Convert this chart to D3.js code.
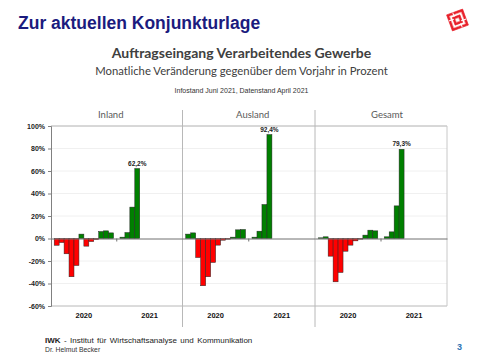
<!DOCTYPE html>
<html>
<head>
<meta charset="utf-8">
<script src="https://cdn.jsdelivr.net/npm/d3@7"></script>
<style>
  html, body { margin: 0; padding: 0; background: #fff; }
  svg { display: block; }
</style>
</head>
<body>
<svg id="chart" width="480" height="360"></svg>
<script>
// ---- data ----
const panels = ["Inland", "Ausland", "Gesamt"];
const years = ["2020", "2021"];
const months = ["Jan","Feb","Mär","Apr","Mai","Jun","Jul","Aug","Sep","Okt","Nov","Dez"];
const inland  = [-6.0, -3.6, -13.6, -34.0, -24.0, 3.9, -6.8, -2.7, -0.9, 6.2, 6.8, 5.0,   1.2, 5.3, 27.9, 62.2];
const ausland = [ 3.9,  5.0, -16.9, -42.0, -34.0, -21.3, -5.9, -1.5, -0.6, 1.2, 7.7, 8.0,   1.2, 6.5, 30.2, 92.4];
const gesamt  = [ 0.6,  1.5, -15.7, -38.5, -30.2, -11.3, -5.9, -2.1, -0.6, 3.0, 7.4, 6.8,   1.5, 5.9, 29.0, 79.3];
const seriesValues = [inland, ausland, gesamt];
const peakLabels = ["62,2%", "92,4%", "79,3%"];
const yTicks = [100, 80, 60, 40, 20, 0, -20, -40, -60];

(function () {
// ---- layout ----
const svg = d3.select("#chart");
const pLeft = 51, pRight = 447, pTop = 126, pBottom = 306;
const panelEdges = [51, 182.5, 315, 447];
const titleOffsets = [-6, 4, 6];

const y = d3.scaleLinear().domain([-60, 100]).range([pBottom, pTop]);

// header texts
svg.append("text").attr("x", 18).attr("y", 29)
  .attr("font-family", "Liberation Sans, Arial, sans-serif").attr("font-weight", "bold")
  .attr("font-size", 17.5).attr("fill", "#1b1b7e").text("Zur aktuellen Konjunkturlage");

svg.append("text").attr("x", 241.5).attr("y", 58.3).attr("text-anchor", "middle")
  .attr("font-family", "Lato, 'Open Sans', sans-serif").attr("font-weight", "bold")
  .attr("font-size", 14).attr("fill", "#404040").text("Auftragseingang Verarbeitendes Gewerbe");

svg.append("text").attr("x", 241.5).attr("y", 74.7).attr("text-anchor", "middle")
  .attr("font-family", "Lato, 'Open Sans', sans-serif")
  .attr("font-size", 11.3).attr("fill", "#404040").text("Monatliche Veränderung gegenüber dem Vorjahr in Prozent");

svg.append("text").attr("x", 241.5).attr("y", 92.5).attr("text-anchor", "middle")
  .attr("font-family", "Liberation Sans Narrow, Liberation Sans, Arial, sans-serif")
  .attr("font-size", 7).attr("fill", "#333").text("Infostand Juni 2021, Datenstand April 2021");

// logo (decorative)
const logo = svg.append("g").attr("transform", "translate(457.5,20) rotate(-20)");
[8.5, 6.2, 4, 1.8].forEach((r, i) => {
  logo.append("rect").attr("x", -r).attr("y", -r).attr("width", 2 * r).attr("height", 2 * r)
    .attr("fill", i % 2 === 0 ? "#e8202a" : "#fff")
    .attr("stroke", i % 2 === 0 ? "#e8202a" : "#f4a0a0").attr("stroke-width", 0.6);
});
logo.append("path").attr("d", "M-8.5,-2 L-3,-2 M3,2 L8.5,2 M-2,-8.5 L-2,-4 M2,4 L2,8.5")
  .attr("stroke", "#fff").attr("stroke-width", 1);

// gridlines
const grid = svg.append("g");
grid.selectAll("line.g").data(yTicks.filter(t => t !== 0 && t !== 100 && t !== -60))
  .join("line").attr("x1", pLeft).attr("x2", pRight)
  .attr("y1", d => y(d)).attr("y2", d => y(d))
  .attr("stroke", "#ececec").attr("stroke-width", 0.8);
grid.append("line").attr("x1", pLeft).attr("x2", pRight).attr("y1", y(100)).attr("y2", y(100))
  .attr("stroke", "#b0b0b0").attr("stroke-width", 1);
grid.append("line").attr("x1", pLeft).attr("x2", pRight).attr("y1", y(-60)).attr("y2", y(-60))
  .attr("stroke", "#b8b8b8").attr("stroke-width", 1);
grid.append("line").attr("x1", pRight).attr("x2", pRight).attr("y1", y(100)).attr("y2", y(-60))
  .attr("stroke", "#c8c8c8").attr("stroke-width", 1);

// panel dividers
svg.selectAll("line.div").data([panelEdges[1], panelEdges[2]]).join("line")
  .attr("x1", d => d).attr("x2", d => d).attr("y1", 110).attr("y2", 327)
  .attr("stroke", "#b8b8b8").attr("stroke-width", 1);

// y axis
const yAxis = d3.axisLeft(y).tickValues(yTicks).tickSize(3).tickFormat(d => d + "%");
const yg = svg.append("g").attr("transform", `translate(${pLeft},0)`).call(yAxis);
yg.select(".domain").attr("stroke", "#808080");
yg.selectAll(".tick line").attr("stroke", "#808080");
yg.selectAll(".tick text").attr("font-family", "Liberation Sans, Arial, sans-serif")
  .attr("font-weight", "bold").attr("font-size", 7).attr("fill", "#222").attr("x", -6);

// panels
panels.forEach((name, pi) => {
  const x0 = panelEdges[pi], x1 = panelEdges[pi + 1];
  const xYear = d3.scaleBand().domain(years).range([x0, x1]).paddingInner(0).paddingOuter(0);
  const xMonth = d3.scaleBand().domain(d3.range(12)).range([0, xYear.bandwidth()]).paddingInner(0).paddingOuter(0.65);
  const vals = seriesValues[pi];
  const data = vals.map((v, i) => ({ year: years[Math.floor(i / 12)], m: i % 12, v }));
  const g = svg.append("g");

  // title
  g.append("text").attr("x", (x0 + x1) / 2 + titleOffsets[pi]).attr("y", 117.5)
    .attr("text-anchor", "middle").attr("font-family", "Lato, 'Open Sans', sans-serif")
    .attr("font-size", 9.5).attr("fill", "#595959").text(name);

  // bars
  g.selectAll("rect").data(data).join("rect")
    .attr("x", d => xYear(d.year) + xMonth(d.m))
    .attr("width", xMonth.bandwidth())
    .attr("y", d => y(Math.max(0, d.v)))
    .attr("height", d => Math.abs(y(d.v) - y(0)))
    .attr("fill", d => d.v < 0 ? "#ff0000" : "#008000")
    .attr("stroke", "#262626").attr("stroke-width", 0.5);

  // x axis on zero line
  const xAxis = d3.axisBottom(xYear).tickSize(0).tickFormat("");
  const xg = g.append("g").attr("transform", `translate(0,${y(0)})`).call(xAxis);
  xg.select(".domain").attr("stroke", "#707070").attr("stroke-width", 1);
  g.append("line").attr("x1", xYear("2021")).attr("x2", xYear("2021"))
    .attr("y1", y(0)).attr("y2", y(0) + 3).attr("stroke", "#707070");

  // year labels
  g.selectAll("text.yr").data(years).join("text").attr("class", "yr")
    .attr("x", d => xYear(d) + xYear.bandwidth() / 2).attr("y", 318)
    .attr("text-anchor", "middle").attr("font-family", "Liberation Sans, Arial, sans-serif")
    .attr("font-weight", "bold").attr("font-size", 7.5).attr("fill", "#111").text(d => d);

  // peak label
  const last = data[data.length - 1];
  g.append("text").attr("x", xYear(last.year) + xMonth(last.m) + xMonth.bandwidth() / 2)
    .attr("y", y(last.v) - 3).attr("text-anchor", "middle")
    .attr("font-family", "Liberation Sans, Arial, sans-serif").attr("font-weight", "bold")
    .attr("font-size", 6.5).attr("fill", "#222").text(peakLabels[pi]);
});

// footer
const f = svg.append("text").attr("x", 45).attr("y", 343)
  .attr("font-family", "Liberation Sans, Arial, sans-serif").attr("font-size", 8)
  .attr("word-spacing", 1.2).attr("fill", "#222");
f.append("tspan").attr("font-weight", "bold").text("IWK");
f.append("tspan").text(" - Institut für Wirtschaftsanalyse und Kommunikation");
svg.append("text").attr("x", 45).attr("y", 351.5)
  .attr("font-family", "Liberation Sans, Arial, sans-serif").attr("font-size", 6.8).attr("fill", "#333")
  .text("Dr. Helmut Becker");
svg.append("text").attr("x", 457).attr("y", 350)
  .attr("font-family", "Liberation Sans, Arial, sans-serif").attr("font-weight", "bold")
  .attr("font-size", 9).attr("fill", "#2e74b5").text("3");
})();
</script>
</body>
</html>
